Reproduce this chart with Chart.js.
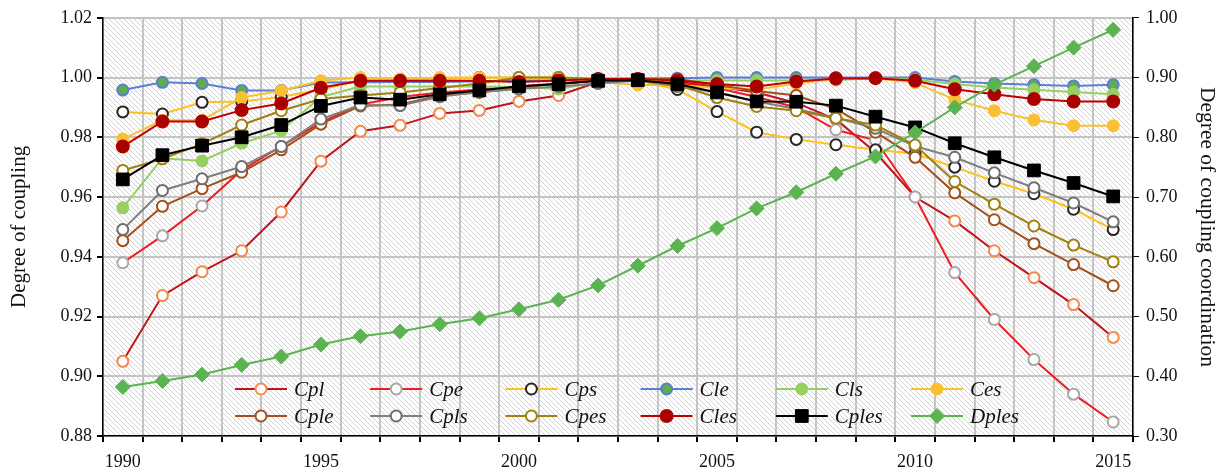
<!DOCTYPE html>
<html>
<head>
<meta charset="utf-8">
<script src="https://cdn.jsdelivr.net/npm/chart.js@4.4.1/dist/chart.umd.min.js"></script>
<style>
    html, body { margin: 0; padding: 0; background: #fff; }
</style>
</head>
<body>
<canvas id="couplingChart" width="1224" height="472"></canvas>
<script>
// Years on the category axis, and which of them get a label
const years = ['1990', '1991', '1992', '1993', '1994', '1995', '1996', '1997', '1998', '1999', '2000', '2001', '2002',
    '2003', '2004', '2005', '2006', '2007', '2008', '2009', '2010', '2011', '2012', '2013', '2014', '2015'];
const yearLabels = ['1990', '1995', '2000', '2005', '2010', '2015'];

// Tick values of the two value axes
const couplingTicks = [0.88, 0.90, 0.92, 0.94, 0.96, 0.98, 1.00, 1.02];
const coordTicks = [0.30, 0.40, 0.50, 0.60, 0.70, 0.80, 0.90, 1.00];

// Degree of coupling (left axis)
const cpl = [0.905, 0.927, 0.935, 0.942, 0.955, 0.972, 0.982, 0.984, 0.988, 0.989, 0.992, 0.994, 0.9985,
    0.9995, 0.9985, 0.997, 0.995, 0.9915, 0.986, 0.975, 0.960, 0.952, 0.942, 0.933, 0.924, 0.913];
const cpe = [0.938, 0.947, 0.957, 0.969, 0.977, 0.985, 0.991, 0.9935, 0.995, 0.996, 0.997, 0.998, 0.999,
    0.9995, 0.998, 0.9965, 0.9935, 0.990, 0.9825, 0.979, 0.960, 0.9347, 0.919, 0.9056, 0.894, 0.8847];
const cps = [0.9885, 0.9878, 0.9917, 0.992, 0.9935, 0.996, 0.999, 0.999, 0.9995, 1.0, 1.0, 1.0, 0.9995,
    0.999, 0.996, 0.9886, 0.9817, 0.9793, 0.9775, 0.9758, 0.9745, 0.970, 0.9653, 0.9611, 0.9559, 0.9491];
const cle = [0.9958, 0.9984, 0.998, 0.9957, 0.9957, 0.9983, 0.9984, 0.9985, 0.9985, 0.9988, 0.999, 0.999, 0.9995,
    0.9997, 0.9998, 1.0, 1.0, 1.0, 1.0, 1.0, 1.0, 0.9987, 0.998, 0.9976, 0.9972, 0.9976];
const cls = [0.9564, 0.973, 0.9721, 0.978, 0.9822, 0.9935, 0.997, 0.997, 0.997, 0.997, 0.9968, 0.9962, 0.9985,
    0.9993, 0.999, 0.999, 0.999, 0.999, 0.9992, 0.9998, 0.9993, 0.9978, 0.9967, 0.9959, 0.9952, 0.9944];
const ces = [0.9794, 0.9857, 0.9857, 0.9933, 0.9956, 0.9989, 1.0, 0.9995, 1.0, 1.0, 1.0, 1.0, 0.9985,
    0.9975, 0.9975, 0.9965, 0.996, 0.998, 0.9995, 0.9997, 0.9983, 0.9926, 0.9889, 0.9858, 0.9839, 0.9839];
const cple = [0.9454, 0.9569, 0.9628, 0.9683, 0.9758, 0.9844, 0.9905, 0.991, 0.994, 0.995, 0.9965, 0.998, 0.999,
    0.9995, 0.9995, 0.9975, 0.9955, 0.994, 0.9895, 0.9817, 0.9733, 0.9614, 0.9524, 0.9444, 0.9374, 0.9303];
const cpls = [0.9491, 0.9622, 0.9661, 0.9702, 0.9769, 0.9861, 0.9908, 0.9906, 0.9936, 0.9952, 0.9962, 0.997, 0.998,
    0.999, 0.997, 0.995, 0.992, 0.9895, 0.9865, 0.983, 0.977, 0.9733, 0.9681, 0.9631, 0.958, 0.9517];
const cpes = [0.9689, 0.9728, 0.9778, 0.9841, 0.9889, 0.9928, 0.994, 0.995, 0.9965, 0.998, 1.0, 1.0, 0.9995,
    0.999, 0.9975, 0.9933, 0.9903, 0.9889, 0.9864, 0.9841, 0.9774, 0.9652, 0.9576, 0.9503, 0.9439, 0.9383];
const cles = [0.9769, 0.9853, 0.9853, 0.9891, 0.9913, 0.9966, 0.9989, 0.9989, 0.9989, 0.9989, 0.9985, 0.999, 0.9995,
    0.9995, 0.999, 0.9978, 0.997, 0.9987, 0.9997, 0.9998, 0.9989, 0.9961, 0.9944, 0.9928, 0.992, 0.992];
const cples = [0.9659, 0.974, 0.9772, 0.980, 0.9841, 0.9905, 0.9933, 0.9926, 0.9944, 0.9957, 0.9971, 0.9978, 0.9989,
    0.9991, 0.9978, 0.995, 0.992, 0.9919, 0.9906, 0.9869, 0.9833, 0.978, 0.9733, 0.9689, 0.9647, 0.9602];

// Degree of coupling coordination (right axis)
const dples = [0.382, 0.392, 0.403, 0.419, 0.433, 0.453, 0.467, 0.475, 0.487, 0.497, 0.512, 0.528, 0.552,
    0.585, 0.618, 0.648, 0.681, 0.708, 0.739, 0.768, 0.808, 0.850, 0.888, 0.919, 0.950, 0.980];

const SERIF = '"Liberation Serif", "Times New Roman", serif';

// line colour, marker shape / size / fill / edge
const styles = {
    Cpl:   { line: '#c0141e', shape: 'circle', size: 5.5, fill: '#ffffff', edge: '#f28a4b' },
    Cpe:   { line: '#ee1c24', shape: 'circle', size: 5.5, fill: '#ffffff', edge: '#a8a8a8' },
    Cps:   { line: '#ffc21a', shape: 'circle', size: 5.5, fill: '#ffffff', edge: '#262626' },
    Cle:   { line: '#5b7fd4', shape: 'circle', size: 5.5, fill: '#5fae48', edge: '#5b7fd4' },
    Cls:   { line: '#96d062', shape: 'circle', size: 5.5, fill: '#96d062', edge: '#96d062' },
    Ces:   { line: '#f9c033', shape: 'circle', size: 5.5, fill: '#f9c033', edge: '#f9c033' },
    Cple:  { line: '#a3501c', shape: 'circle', size: 5.5, fill: '#ffffff', edge: '#a3501c' },
    Cpls:  { line: '#7f7f7f', shape: 'circle', size: 5.5, fill: '#ffffff', edge: '#6e6e6e' },
    Cpes:  { line: '#a0800e', shape: 'circle', size: 5.5, fill: '#ffffff', edge: '#a0800e' },
    Cles:  { line: '#c00000', shape: 'circle', size: 6, fill: '#a80000', edge: '#b00000' },
    Cples: { line: '#000000', shape: 'rect', size: 9, fill: '#000000', edge: '#000000' },
    Dples: { line: '#5cb451', shape: 'rectRot', size: 7.5, fill: '#5cb451', edge: '#5cb451' }
};

const series = [
    ['Cpl', cpl], ['Cpe', cpe], ['Cps', cps], ['Cle', cle], ['Cls', cls], ['Ces', ces],
    ['Cple', cple], ['Cpls', cpls], ['Cpes', cpes], ['Cles', cles], ['Cples', cples], ['Dples', dples]
];

function makeDataset(name, values, index) {
    const s = styles[name];
    return {
        label: name,
        data: values,
        yAxisID: name === 'Dples' ? 'y1' : 'y',
        order: series.length - index, // later series on top, like the original
        borderColor: s.line,
        borderWidth: 2,
        backgroundColor: s.fill,
        pointStyle: s.shape,
        pointRadius: s.size,
        pointHoverRadius: s.size,
        pointBackgroundColor: s.fill,
        pointBorderColor: s.edge,
        pointBorderWidth: name === 'Cples' || name === 'Dples' ? 1 : 2,
        tension: 0,
        fill: false
    };
}

// diagonal hatch behind the plot area
const hatchBackground = {
    id: 'hatchBackground',
    beforeDraw(chart) {
        const { ctx, chartArea: a } = chart;
        const n = 5;
        const tile = document.createElement('canvas');
        tile.width = n; tile.height = n;
        const t = tile.getContext('2d');
        t.fillStyle = '#ffffff';
        t.fillRect(0, 0, n, n);
        t.strokeStyle = '#d2d2d2';
        t.lineWidth = 1;
        t.beginPath();
        t.moveTo(0, 0); t.lineTo(n, n);
        t.moveTo(-1, n - 1); t.lineTo(1, n + 1);
        t.moveTo(n - 1, -1); t.lineTo(n + 1, 1);
        t.stroke();
        ctx.save();
        ctx.fillStyle = ctx.createPattern(tile, 'repeat');
        ctx.fillRect(a.left, a.top, a.right - a.left, a.bottom - a.top);
        ctx.restore();
    }
};

function drawMarker(ctx, shape, r, x, y) {
    ctx.beginPath();
    if (shape === 'rect') {
        const h = r * Math.SQRT1_2;
        ctx.rect(x - h, y - h, 2 * h, 2 * h);
    } else if (shape === 'rectRot') {
        ctx.moveTo(x - r, y); ctx.lineTo(x, y - r); ctx.lineTo(x + r, y); ctx.lineTo(x, y + r);
        ctx.closePath();
    } else {
        ctx.arc(x, y, r, 0, Math.PI * 2);
    }
    ctx.fill();
    ctx.stroke();
}

// two-row legend sitting inside the bottom of the plot
const insideLegend = {
    id: 'insideLegend',
    afterDatasetsDraw(chart) {
        const { ctx, chartArea: a } = chart;
        const colStart = a.left + 158, colGap = 135.2;
        const rowStart = a.bottom - 47, rowGap = 27;
        ctx.save();
        chart.data.datasets.forEach((ds, i) => {
            const cx = colStart + (i % 6) * colGap;
            const cy = rowStart + Math.floor(i / 6) * rowGap;
            ctx.strokeStyle = ds.borderColor;
            ctx.lineWidth = 2;
            ctx.beginPath();
            ctx.moveTo(cx - 26, cy); ctx.lineTo(cx + 26, cy);
            ctx.stroke();
            ctx.fillStyle = ds.pointBackgroundColor;
            ctx.strokeStyle = ds.pointBorderColor;
            ctx.lineWidth = ds.pointBorderWidth;
            drawMarker(ctx, ds.pointStyle, ds.pointRadius, cx, cy);
            ctx.fillStyle = '#111';
            ctx.font = 'italic 21px ' + SERIF;
            ctx.textAlign = 'left';
            ctx.textBaseline = 'middle';
            ctx.fillText(ds.label, cx + 33, cy + 1);
        });
        ctx.restore();
    }
};

const ctx = document.getElementById('couplingChart').getContext('2d');
new Chart(ctx, {
    type: 'line',
    data: {
        labels: years,
        datasets: series.map(([name, values], i) => makeDataset(name, values, i))
    },
    options: {
        responsive: false,
        animation: false,
        layout: { padding: { top: 15, left: 0, right: 0, bottom: 0 } },
        plugins: {
            legend: { display: false },
            tooltip: { enabled: false }
        },
        scales: {
            x: {
                type: 'category',
                offset: true,
                afterFit: s => { s.height = 36; },
                grid: { offset: true, color: '#c4c4c4', lineWidth: 2, tickColor: '#000', tickLength: 6, z: -1 },
                border: { color: '#000', width: 1.5 },
                ticks: {
                    autoSkip: false,
                    maxRotation: 0,
                    padding: 9,
                    color: '#111',
                    font: { family: SERIF, size: 18 },
                    callback: function (val) {
                        const label = this.getLabelForValue(val);
                        return yearLabels.includes(label) ? label : '';
                    }
                }
            },
            y: {
                position: 'left',
                min: couplingTicks[0],
                max: couplingTicks[couplingTicks.length - 1],
                afterBuildTicks: axis => { axis.ticks = couplingTicks.map(v => ({ value: v })); },
                afterFit: s => { s.width = 103; },
                grid: { color: '#c4c4c4', lineWidth: 2, tickColor: '#000', tickLength: 6, z: -1 },
                border: { color: '#000', width: 1.5 },
                ticks: {
                    padding: 5,
                    color: '#111',
                    font: { family: SERIF, size: 18 },
                    callback: v => v.toFixed(2)
                },
                title: {
                    display: true,
                    text: 'Degree of coupling',
                    color: '#111',
                    font: { family: SERIF, size: 21 },
                    padding: { top: 7, bottom: 0 }
                }
            },
            y1: {
                position: 'right',
                min: coordTicks[0],
                max: coordTicks[coordTicks.length - 1],
                afterBuildTicks: axis => { axis.ticks = coordTicks.map(v => ({ value: v })); },
                afterFit: s => { s.width = 91; },
                grid: { drawOnChartArea: false, tickColor: '#000', tickLength: 6, z: -1 },
                border: { color: '#000', width: 1.5 },
                ticks: {
                    padding: 7,
                    color: '#111',
                    font: { family: SERIF, size: 18 },
                    callback: v => v.toFixed(2)
                },
                title: {
                    display: true,
                    text: 'Degree of coupling coordination',
                    color: '#111',
                    font: { family: SERIF, size: 21.5 },
                    padding: { top: 4, bottom: 0 }
                }
            }
        }
    },
    plugins: [hatchBackground, insideLegend]
});
</script>
</body>
</html>
